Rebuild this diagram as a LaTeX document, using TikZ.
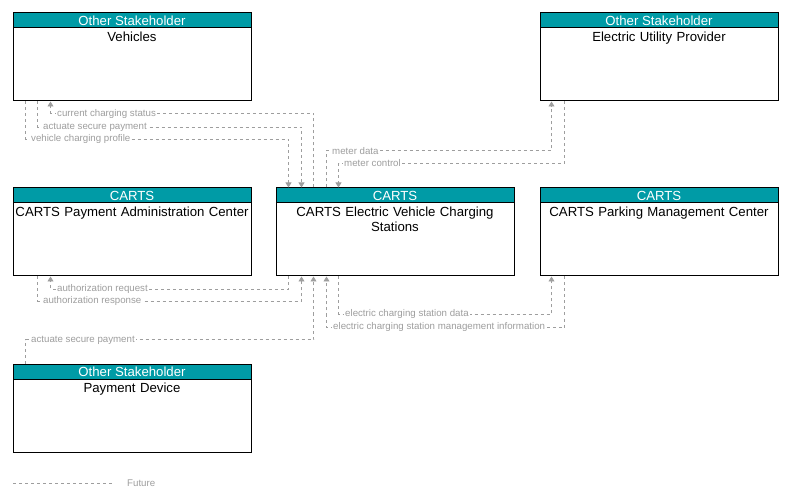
\documentclass[tikz,border=0pt]{standalone}
\usepackage{fontspec}
\setmainfont{Liberation Sans}
\usetikzlibrary{arrows.meta}
\definecolor{cartsteal}{RGB}{0,155,166}
\definecolor{flowgray}{RGB}{158,158,158}
\hyphenpenalty=10000
\exhyphenpenalty=10000
\tikzset{
  actorbox/.style={draw=black, line width=1pt, minimum width=238pt, minimum height=88pt, inner sep=0pt},
  actorhead/.style={draw=black, line width=1pt, fill=cartsteal, text=white, minimum width=238pt, minimum height=15pt, inner sep=0pt, anchor=north, font=\fontsize{13.2}{15}\selectfont},
  actortitle/.style={text width=236pt, align=center, inner xsep=1pt, inner ysep=3pt, anchor=north, font=\fontsize{13.2}{15}\selectfont},
  flow/.style={draw=flowgray, line width=0.8pt, dash pattern=on 3pt off 3pt},
  arr/.style={-{Triangle[width=6pt,length=5pt]}},
  flowlabel/.style={fill=white, text=flowgray, inner sep=1pt, anchor=west, font=\fontsize{9.7}{11}\selectfont}
}
\begin{document}
\begin{tikzpicture}[x=1pt,y=-1pt]
        \useasboundingbox (0,0) rectangle (789,502);

        % boxes
        \node[actorbox] (veh) at (132,57) {};
        \node[actorhead] (vehH) at (veh.north) {Other Stakeholder};
        \node[actortitle] (vehT) at (vehH.south) {Vehicles};

        \node[actorbox] (eu) at (659,57) {};
        \node[actorhead] (euH) at (eu.north) {Other Stakeholder};
        \node[actortitle] (euT) at (euH.south) {Electric Utility Provider};

        \node[actorbox] (pa) at (132,232) {};
        \node[actorhead] (paH) at (pa.north) {CARTS};
        \node[actortitle] (paT) at (paH.south) {CARTS Payment Administration Center};

        \node[actorbox] (ev) at (395,232) {};
        \node[actorhead] (evH) at (ev.north) {CARTS};
        \node[actortitle] (evT) at (evH.south) {CARTS Electric Vehicle Charging\\Stations};

        \node[actorbox] (pk) at (659,232) {};
        \node[actorhead] (pkH) at (pk.north) {CARTS};
        \node[actortitle] (pkT) at (pkH.south) {CARTS Parking Management Center};

        \node[actorbox] (pd) at (132,408) {};
        \node[actorhead] (pdH) at (pd.north) {Other Stakeholder};
        \node[actortitle] (pdT) at (pdH.south) {Payment Device};

        % flows
        \draw[flow,arr] ([xshift=38pt]ev.north west) -- ++(0,-74) -| ([xshift=38pt]veh.south west);
        \draw[flow,arr] ([xshift=25pt]veh.south west) -- ++(0,26) -| ([xshift=26pt]ev.north west);
        \draw[flow,arr] ([xshift=13pt]veh.south west) -- ++(0,38) -| ([xshift=13pt]ev.north west);
        \draw[flow,arr] ([xshift=51pt]ev.north west) -- ++(0,-37) -| ([xshift=12pt]eu.south west);
        \draw[flow,arr] ([xshift=25pt]eu.south west) -- ++(0,62) -| ([xshift=63pt]ev.north west);
        \draw[flow,arr] ([xshift=13pt]ev.south west) -- ++(0,13) -| ([xshift=38pt]pa.south west);
        \draw[flow,arr] ([xshift=25pt]pa.south west) -- ++(0,25) -| ([xshift=26pt]ev.south west);
        \draw[flow,arr] ([xshift=13pt]pd.north west) -- ++(0,-24) -| ([xshift=38pt]ev.south west);
        \draw[flow,arr] ([xshift=63pt]ev.south west) -- ++(0,38) -| ([xshift=12pt]pk.south west);
        \draw[flow,arr] ([xshift=25pt]pk.south west) -- ++(0,51) -| ([xshift=51pt]ev.south west);

        % labels
        \node[flowlabel] (l1) at (56,114) {current charging status};
        \node[flowlabel] (l2) at (42,127) {actuate secure payment};
        \node[flowlabel] (l3) at (30,139) {vehicle charging profile};
        \node[flowlabel] (l4) at (331,151) {meter data};
        \node[flowlabel] (l5) at (343,163) {meter control};
        \node[flowlabel] (l6) at (56,289) {authorization request};
        \node[flowlabel] (l7) at (42,301) {authorization response};
        \node[flowlabel] (l8) at (30,340) {actuate secure payment};
        \node[flowlabel] (l9) at (344,314) {electric charging station data};
        \node[flowlabel] (l10) at (332,327) {electric charging station management information};

        % legend
        \coordinate (fa) at (13,483);
        \coordinate (fb) at (112,483);
        \draw[flow] (fa) -- (fb);
        \node[flowlabel, fill=none] (fut) at (126,483) {Future};

\end{tikzpicture}
\end{document}
